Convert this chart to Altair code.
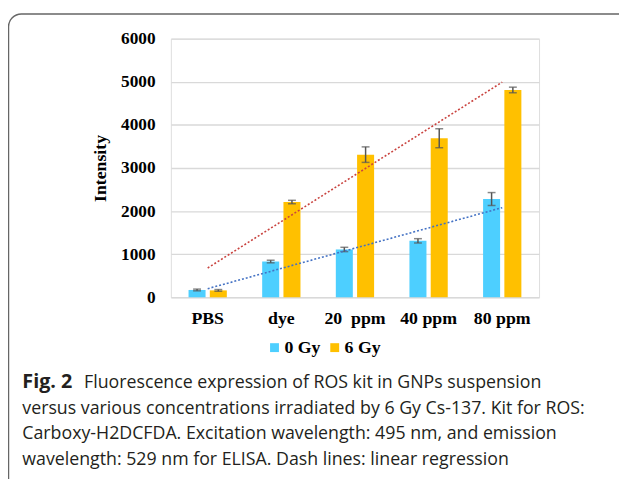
import altair as alt
import pandas as pd

categories = ["PBS", "dye", "20\u00a0 ppm", "40 ppm", "80 ppm"]
series_names = ["0 Gy", "6 Gy"]
intensity_0gy = [170, 830, 1110, 1310, 2280]
intensity_6gy = [160, 2210, 3310, 3690, 4810]
error_0gy = [20, 30, 50, 50, 150]
error_6gy = [20, 40, 180, 220, 65]
y_ticks = [0, 1000, 2000, 3000, 4000, 5000, 6000]
bar_colors = ["#4DCFFF", "#FFC000"]
trend_colors = ["#4472C4", "#C9433F"]
caption_bold = "Fig. 2"
caption_lines = [
    "Fluorescence expression of ROS kit in GNPs suspension",
    "versus various concentrations irradiated by 6 Gy Cs-137. Kit for ROS:",
    "Carboxy-H2DCFDA. Excitation wavelength: 495 nm, and emission",
    "wavelength: 529 nm for ELISA. Dash lines: linear regression",
]

rows = []
for i, c in enumerate(categories):
    rows.append({"cat": c, "idx": i + 1, "series": series_names[0],
                 "value": intensity_0gy[i], "err": error_0gy[i]})
    rows.append({"cat": c, "idx": i + 1, "series": series_names[1],
                 "value": intensity_6gy[i], "err": error_6gy[i]})
df = pd.DataFrame(rows)

SERIF = "Liberation Serif"
y_scale = alt.Scale(domain=[0, 6000])
y_axis = alt.Axis(values=y_ticks, format="d", title="Intensity", titleFont=SERIF,
                  titleFontSize=18, titleFontWeight="bold", titleColor="black",
                  titleX=-71, titleY=131, titleBaseline="middle", titleAngle=-90,
                  labelFont=SERIF, labelFontSize=17.5, labelFontWeight="bold",
                  labelColor="black", labelPadding=16, domain=False, ticks=False,
                  grid=True, gridColor="#D9D9D9", gridWidth=1.4)
x_scale = alt.Scale(paddingInner=0.48, paddingOuter=0.24)
x_enc = alt.X("cat:N", sort=categories, title=None, scale=x_scale,
              axis=alt.Axis(labelAngle=0, labelFont=SERIF, labelFontSize=18,
                            labelFontWeight="bold", labelColor="black",
                            labelPadding=13, domain=False, ticks=False, grid=False))
x_enc_noaxis = alt.X("cat:N", sort=categories, title=None, scale=x_scale, axis=None)
xoff_enc = alt.XOffset("series:N", sort=series_names,
                       scale=alt.Scale(paddingInner=0.2, paddingOuter=0))

base = alt.Chart(df)

bars = base.mark_bar().encode(
    x=x_enc, xOffset=xoff_enc,
    y=alt.Y("value:Q", scale=y_scale, axis=y_axis),
    color=alt.Color("series:N", sort=series_names,
                    scale=alt.Scale(domain=series_names, range=bar_colors),
                    legend=alt.Legend(title=None, orient="none", direction="horizontal",
                                      legendX=96, legendY=304, padding=0,
                                      symbolType="square", symbolSize=81,
                                      symbolStrokeWidth=0, labelFont=SERIF,
                                      labelFontSize=18, labelFontWeight="bold",
                                      labelColor="black", labelOffset=1,
                                      columnPadding=5)),
)

err_base = base.transform_calculate(lo="datum.value - datum.err",
                                    hi="datum.value + datum.err")
err_rule = err_base.mark_rule(color="#555555", strokeWidth=1.5).encode(
    x=x_enc_noaxis, xOffset=xoff_enc,
    y=alt.Y("lo:Q", scale=y_scale, axis=y_axis), y2="hi:Q",
)
err_caps = err_base.transform_fold(["lo", "hi"], as_=["end", "pos"]).mark_tick(
    color="#555555", thickness=1.5, size=8).encode(
    x=x_enc_noaxis, xOffset=xoff_enc,
    y=alt.Y("pos:Q", scale=y_scale, axis=y_axis),
)

trend_layers = []
for name, col in zip(series_names, trend_colors):
    trend_layers.append(
        base.transform_filter(alt.datum.series == name)
        .transform_regression("idx", "value")
        .mark_line(color=col, strokeDash=[2, 2], strokeWidth=1.6)
        .encode(x=alt.X("idx:Q", scale=alt.Scale(domain=[0.5, 5.5]), axis=None),
                y=alt.Y("value:Q", scale=y_scale, axis=y_axis))
    )

one = pd.DataFrame({"k": [0]})
frame = alt.Chart(one).mark_rect(fillOpacity=0, stroke="#666666", strokeWidth=1.5,
                                 cornerRadius=13).encode(
    x=alt.value(-164.5), x2=alt.value(470), y=alt.value(-25), y2=alt.value(470))

cap_layers = [
    alt.Chart(one).mark_text(align="left", baseline="alphabetic", font="Open Sans",
                             fontSize=20, fontWeight="bold", color="#231F20").encode(
        x=alt.value(-150.5), y=alt.value(354), text=alt.value(caption_bold))
]
cap_x = [-88, -150.5, -150.5, -150.5]
cap_y = [354, 380, 406, 432]
for line, cx, cy in zip(caption_lines, cap_x, cap_y):
    cap_layers.append(
        alt.Chart(one).mark_text(align="left", baseline="alphabetic", font="Open Sans",
                                 fontSize=18, color="#231F20").encode(
            x=alt.value(cx), y=alt.value(cy), text=alt.value(line))
    )

chart = alt.layer(bars, err_rule, err_caps, *trend_layers, frame, *cap_layers).resolve_scale(
    x="independent"
).properties(
    width=373, height=262,
    autosize=alt.AutoSizeParams(type="none"),
    padding={"left": 165, "top": 28, "right": 81, "bottom": 181},
).configure_view(stroke=None).configure(background="white")

chart.save("out.html", embed_options={"renderer": "svg", "actions": False})
